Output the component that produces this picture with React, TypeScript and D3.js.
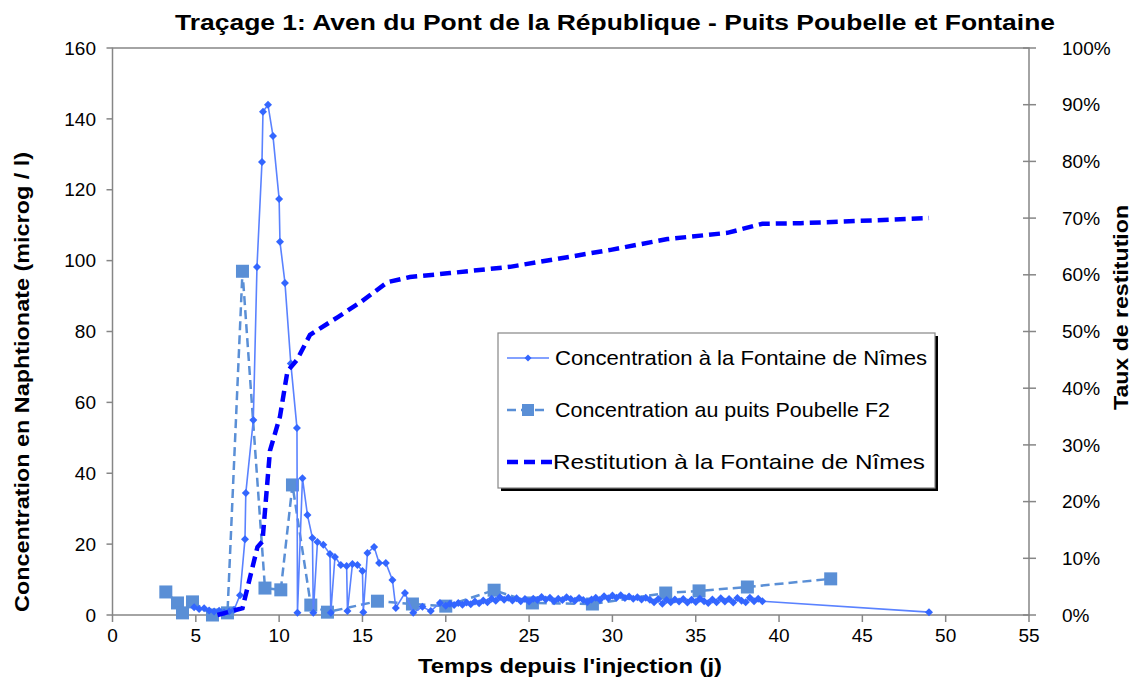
import React from 'react';
import * as d3 from 'd3';

// Concentration à la Fontaine de Nîmes (days, microg/l)
const fontDays = [
  4.9, 5.2, 5.5, 5.8, 6.1, 6.4, 6.7, 7.0, 7.3, 7.65, 7.95, 8.0, 8.45, 8.67, 8.97, 9.03, 9.33, 9.63,
  10.0, 10.05, 10.35, 10.7, 11.07, 11.1, 11.4, 11.7, 12.0, 12.05, 12.3, 12.65, 13.05, 13.1, 13.35,
  13.7, 14.05, 14.1, 14.4, 14.7, 15.0, 15.05, 15.3, 15.7, 16.0, 16.4, 16.8, 17.0, 17.55, 18.05,
  18.6, 19.1, 19.65,
  20.0, 20.25, 20.5, 20.75, 21.0, 21.25, 21.5, 21.75, 22.0, 22.25, 22.5, 22.75, 23.0, 23.25, 23.5,
  23.75, 24.0, 24.25, 24.5, 24.75, 25.0, 25.25, 25.5, 25.75, 26.0, 26.25, 26.5, 26.75, 27.0, 27.25,
  27.5, 27.75, 28.0, 28.25, 28.5, 28.75, 29.0, 29.25, 29.5, 29.75, 30.0, 30.25, 30.5, 30.75, 31.0,
  31.25, 31.5, 31.75, 32.0, 32.25, 32.5, 32.75, 33.0, 33.25, 33.5, 33.75, 34.0, 34.25, 34.5, 34.75,
  35.0, 35.25, 35.5, 35.75, 36.0, 36.25, 36.5, 36.75, 37.0, 37.25, 37.5, 37.75, 38.0, 38.25, 38.5,
  38.75, 39.0, 49.0,
];
const fontConc = [
  2.2, 1.7, 1.9, 1.3, 1.0, 1.2, 0.7, 1.0, 1.5, 5.6, 21.4, 34.4, 55, 98.2, 127.8, 142, 144, 135.2,
  117.4, 105.3, 93.7, 71, 52.8, 0.6, 38.6, 28.2, 21.7, 0.6, 20.6, 19.8, 17.2, 0.6, 16.4,
  14.1, 13.8, 1.1, 14.4, 14.1, 12.4, 0.8, 17.5, 19.2, 14.7, 14.7, 9.9, 2.0, 6.2, 0.6,
  2.3, 1.1, 3.4,
  2.6, 3.2, 2.8, 3.4, 2.9, 3.5, 3.0, 3.8, 3.3, 4.1, 3.6, 4.6, 4.0, 5.0, 4.3,
  4.9, 4.1, 4.7, 3.9, 4.5, 3.8, 4.6, 4.2, 5.1, 4.4, 4.9, 3.9, 4.6, 4.2, 5.0,
  4.5, 4.0, 4.8, 4.2, 3.7, 4.4, 4.9, 4.3, 5.3, 4.7, 5.5, 4.9, 5.6, 4.8, 5.2,
  4.6, 5.0, 4.4, 4.9, 4.3, 3.6, 4.5, 3.2, 4.2, 3.6, 4.4, 3.8, 4.5, 3.5, 4.3,
  3.7, 4.6, 3.9, 3.4, 4.4, 3.6, 4.7, 3.8, 4.5, 3.5, 4.8, 4.0, 3.6, 4.9, 3.9,
  4.6, 3.9, 0.8,
];

// Concentration au puits Poubelle F2
const puitsDays = [3.2, 3.9, 4.2, 4.8, 6.0, 6.9, 7.8, 9.15, 10.1, 10.8, 11.9, 12.9, 15.9, 18.0, 20.0, 22.9, 25.2, 28.8, 33.2, 35.2, 38.1, 43.1];
const puitsConc = [6.5, 3.4, 0.6, 3.7, 0, 0.6, 97, 7.6, 7.1, 36.7, 2.8, 0.8, 3.9, 3.1, 2.5, 7, 3.4, 3.1, 6.2, 6.8, 7.9, 10.2];

// Restitution à la Fontaine de Nîmes (%, right axis)
const restDays = [6.3, 7.8, 8.7, 9.0, 9.45, 10.05, 10.5, 11.07, 11.85, 13.5, 14.9, 16.5, 17.85, 20.25, 23.85, 29.9, 33.3, 36.9, 39.0, 41.3, 49.0];
const restPct = [0, 1.2, 12, 13, 29, 35, 43, 45, 49.4, 52.5, 55.2, 58.7, 59.6, 60.3, 61.4, 64.4, 66.3, 67.4, 69, 69.1, 70];

const xTicks = [0, 5, 10, 15, 20, 25, 30, 35, 40, 45, 50, 55];
const yTicks = [0, 20, 40, 60, 80, 100, 120, 140, 160];
const pctTicks = [0, 10, 20, 30, 40, 50, 60, 70, 80, 90, 100];

const legendLabels = [
  'Concentration à la Fontaine de Nîmes',
  'Concentration au puits Poubelle F2',
  'Restitution à la Fontaine de Nîmes',
];

const W = 1135;
const H = 686;
const left = 112.5, right = 1029, top = 48, bottom = 615;
const FONT = 'Arial, "Liberation Sans", Helvetica, sans-serif';
const AXIS = '#868686';
const C_FONT = '#3366ff';
const C_FONT_LINE = '#5a82ff';
const C_PUITS = '#5a8fd6';
const C_REST = '#0000ff';

export default function App() {
  const x = d3.scaleLinear().domain([0, 55]).range([left, right]);
  const y = d3.scaleLinear().domain([0, 160]).range([bottom, top]);
  const yPct = d3.scaleLinear().domain([0, 100]).range([bottom, top]);

  const fontPts = fontDays.map((d, i) => [x(d), y(fontConc[i])] as [number, number]);
  const puitsPts = puitsDays.map((d, i) => [x(d), y(puitsConc[i])] as [number, number]);
  const restPts = restDays.map((d, i) => [x(d), yPct(restPct[i])] as [number, number]);
  const line = d3.line();

  const diamond = (cx: number, cy: number, r: number) =>
    `M${cx},${cy - r}L${cx + r},${cy}L${cx},${cy + r}L${cx - r},${cy}Z`;

  const lgX = 498, lgY = 333, lgW = 437, lgH = 155;
  const lgRows = [358, 410, 462];
  const lgLen = [372, 335, 372];

  return (
    <svg width={W} height={H} style={{ position: 'absolute', left: 0, top: 0, background: '#fff' }}
      fontFamily={FONT}>
      <rect x={0} y={0} width={W} height={H} fill="#fff" />
      <text x={175} y={30} fontSize={22} fontWeight="bold" fill="#000"
        textLength={880} lengthAdjust="spacingAndGlyphs">
        Traçage 1: Aven du Pont de la République - Puits Poubelle et Fontaine
      </text>

      {/* plot frame */}
      <rect x={left} y={top} width={right - left} height={bottom - top} fill="none" stroke={AXIS} strokeWidth={1.5} />

      {/* left axis */}
      {yTicks.map(t => (
        <g key={'y' + t}>
          <line x1={left - 6} x2={left} y1={y(t)} y2={y(t)} stroke={AXIS} strokeWidth={1.5} />
          <text x={96} y={y(t)} dy="0.35em" textAnchor="end" fontSize={19} fill="#000">{t}</text>
        </g>
      ))}
      {/* right axis */}
      {pctTicks.map(t => (
        <g key={'p' + t}>
          <line x1={right - 6} x2={right + 7} y1={yPct(t)} y2={yPct(t)} stroke={AXIS} strokeWidth={1.5} />
          <text x={1062} y={yPct(t)} dy="0.35em" textAnchor="start" fontSize={19} fill="#000">{t}%</text>
        </g>
      ))}
      {/* bottom axis */}
      {xTicks.map(t => (
        <g key={'x' + t}>
          <line x1={x(t)} x2={x(t)} y1={bottom} y2={bottom + 7} stroke={AXIS} strokeWidth={1.5} />
          <text x={x(t)} y={642} textAnchor="middle" fontSize={19} fill="#000">{t}</text>
        </g>
      ))}

      <text x={418} y={673} fontSize={20} fontWeight="bold" fill="#000"
        textLength={304} lengthAdjust="spacingAndGlyphs">
        Temps depuis l'injection (j)
      </text>
      <text transform="translate(29,612) rotate(-90)" fontSize={21} fontWeight="bold" fill="#000"
        textLength={460} lengthAdjust="spacingAndGlyphs">
        Concentration en Naphtionate (microg / l)
      </text>
      <text transform="translate(1128,410) rotate(-90)" fontSize={21} fontWeight="bold" fill="#000"
        textLength={205} lengthAdjust="spacingAndGlyphs">
        Taux de restitution
      </text>

      {/* series: puits Poubelle */}
      <path d={line(puitsPts) || ''} fill="none" stroke={C_PUITS} strokeWidth={2.5} strokeDasharray="9,5" />
      {puitsPts.map((p, i) => (
        <rect key={'s' + i} x={p[0] - 6.5} y={p[1] - 6.5} width={13} height={13} fill={C_PUITS} />
      ))}

      {/* series: fontaine */}
      <path d={line(fontPts) || ''} fill="none" stroke={C_FONT_LINE} strokeWidth={1.6} />
      {fontPts.map((p, i) => (
        <path key={'d' + i} d={diamond(p[0], p[1], 4)} fill={C_FONT} />
      ))}

      {/* restitution */}
      <path d={line(restPts) || ''} fill="none" stroke={C_REST} strokeWidth={4.5} strokeDasharray="11,6" />

      {/* legend */}
      <rect x={lgX + 3} y={lgY + 3} width={lgW} height={lgH} fill="#000" />
      <rect x={lgX} y={lgY} width={lgW} height={lgH} fill="#fff" stroke={AXIS} strokeWidth={1.2} />
      <line x1={507} x2={549} y1={lgRows[0]} y2={lgRows[0]} stroke={C_FONT_LINE} strokeWidth={1.6} />
      <path d={diamond(528, lgRows[0], 3.5)} fill={C_FONT} />
      <line x1={507} x2={549} y1={lgRows[1]} y2={lgRows[1]} stroke={C_PUITS} strokeWidth={2.5} strokeDasharray="9,5" />
      <rect x={522} y={lgRows[1] - 6} width={12} height={12} fill={C_PUITS} />
      <line x1={507} x2={553} y1={lgRows[2]} y2={lgRows[2]} stroke={C_REST} strokeWidth={4.5} strokeDasharray="11,6" />
      {legendLabels.map((s, i) => (
        <text key={'l' + i} x={i === 2 ? 553 : 555} y={lgRows[i]} dy="0.35em" fontSize={21} fill="#000"
          textLength={lgLen[i]} lengthAdjust="spacingAndGlyphs">{s}</text>
      ))}
    </svg>
  );
}
